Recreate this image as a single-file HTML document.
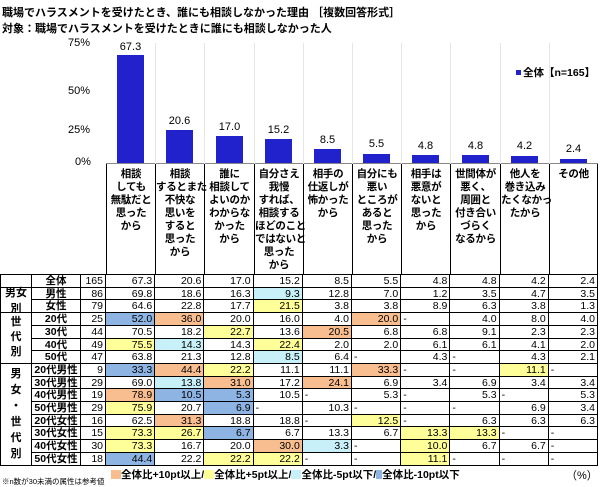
<!DOCTYPE html>
<html><head><meta charset="utf-8">
<style>
*{margin:0;padding:0;box-sizing:border-box}
body{width:600px;height:487px;background:#fff;position:relative;overflow:hidden;font-family:"Liberation Sans","Noto Sans CJK JP",sans-serif;color:#000}
.a{position:absolute}
.t{font-size:11px;font-weight:bold;white-space:nowrap}
.hd{position:absolute;top:164px;height:110px;border-left:1px solid #000;font-size:10.5px;font-weight:bold;text-align:center;line-height:13px;padding-top:4px;white-space:nowrap;letter-spacing:-0.3px}
.r{position:absolute;left:0;width:598px;height:13.7px;border-top:1px solid #000}
.cell{position:absolute;top:0;height:12.7px;font-size:10.5px;line-height:12.7px;white-space:nowrap;padding:0 2px;border-right:1px solid #000}
.n{text-align:right}.l{text-align:center;font-weight:bold}.d{text-align:left}
.gl{position:absolute;left:0;width:32px;text-align:center;font-size:11px;font-weight:bold;display:flex;flex-direction:column;justify-content:center;background:#fff;border-right:1px solid #000;border-left:1px solid #000;border-top:1px solid #000}
.o{background:#F9BE90}.y{background:#FFFF99}.c{background:#C8F0F8}.b{background:#8DB4E2}
.bar{position:absolute;background:#2222CC;width:27px}
.v{position:absolute;font-size:11px;width:49px;text-align:center}
</style></head><body>
<div class="a t" style="left:2px;top:4px">職場でハラスメントを受けたとき、誰にも相談しなかった理由 ［複数回答形式］</div>
<div class="a t" style="left:2px;top:20px">対象：職場でハラスメントを受けたときに誰にも相談しなかった人</div>

<div class="a" style="left:68px;top:37px;font-size:11px">75%</div>
<div class="a" style="left:68px;top:85px;font-size:11px">50%</div>
<div class="a" style="left:68px;top:124px;font-size:11px">25%</div>
<div class="a" style="left:75px;top:156px;font-size:11px">0%</div>
<div class="a" style="left:106px;top:43px;width:492px;height:121px;border-bottom:1px solid #888"></div>
<div class="a" style="left:155px;top:43px;width:1px;height:121px;background:#e6e6e6"></div>
<div class="a" style="left:204px;top:43px;width:1px;height:121px;background:#e6e6e6"></div>
<div class="a" style="left:254px;top:43px;width:1px;height:121px;background:#e6e6e6"></div>
<div class="a" style="left:303px;top:43px;width:1px;height:121px;background:#e6e6e6"></div>
<div class="a" style="left:352px;top:43px;width:1px;height:121px;background:#e6e6e6"></div>
<div class="a" style="left:401px;top:43px;width:1px;height:121px;background:#e6e6e6"></div>
<div class="a" style="left:450px;top:43px;width:1px;height:121px;background:#e6e6e6"></div>
<div class="a" style="left:500px;top:43px;width:1px;height:121px;background:#e6e6e6"></div>
<div class="a" style="left:549px;top:43px;width:1px;height:121px;background:#e6e6e6"></div>

<div class="bar" style="left:117px;top:55px;height:108px"></div><div class="v" style="left:106px;top:41px">67.3</div>
<div class="bar" style="left:166px;top:130px;height:33px"></div><div class="v" style="left:155px;top:115px">20.6</div>
<div class="bar" style="left:216px;top:136px;height:27px"></div><div class="v" style="left:205px;top:121px">17.0</div>
<div class="bar" style="left:265px;top:139px;height:24px"></div><div class="v" style="left:254px;top:124px">15.2</div>
<div class="bar" style="left:314px;top:149px;height:14px"></div><div class="v" style="left:303px;top:134px">8.5</div>
<div class="bar" style="left:363px;top:154px;height:9px"></div><div class="v" style="left:352px;top:138px">5.5</div>
<div class="bar" style="left:412px;top:155px;height:8px"></div><div class="v" style="left:401px;top:140px">4.8</div>
<div class="bar" style="left:462px;top:155px;height:8px"></div><div class="v" style="left:451px;top:140px">4.8</div>
<div class="bar" style="left:511px;top:156px;height:7px"></div><div class="v" style="left:500px;top:140px">4.2</div>
<div class="bar" style="left:560px;top:159px;height:4px"></div><div class="v" style="left:549px;top:143px">2.4</div>

<div class="a" style="left:516px;top:70px;width:5px;height:5px;background:#2222CC"></div>
<div class="a t" style="left:523px;top:65px;font-size:10.5px">全体【n=165】</div>

<div class="hd" style="left:106px;width:49px">相談<br>しても<br>無駄だと<br>思った<br>から</div>
<div class="hd" style="left:155px;width:49px">相談<br>するとまた<br>不快な<br>思いを<br>すると<br>思った<br>から</div>
<div class="hd" style="left:204px;width:50px">誰に<br>相談して<br>よいのか<br>わからな<br>かった<br>から</div>
<div class="hd" style="left:254px;width:49px">自分さえ<br>我慢<br>すれば、<br>相談する<br>ほどのこと<br>ではないと<br>思った<br>から</div>
<div class="hd" style="left:303px;width:49px">相手の<br>仕返しが<br>怖かった<br>から</div>
<div class="hd" style="left:352px;width:49px">自分にも<br>悪い<br>ところが<br>あると<br>思った<br>から</div>
<div class="hd" style="left:401px;width:49px">相手は<br>悪意が<br>ないと<br>思った<br>から</div>
<div class="hd" style="left:450px;width:50px">世間体が<br>悪く、<br>周囲と<br>付き合い<br>づらく<br>なるから</div>
<div class="hd" style="left:500px;width:49px">他人を<br>巻き込み<br>たくなかっ<br>たから</div>
<div class="hd" style="left:549px;width:49px;border-right:1px solid #000">その他</div>

<div id="tbl"></div>
<script>
(function(){
var rows=[
["全体","165","67.3","20.6","17.0","15.2","8.5","5.5","4.8","4.8","4.2","2.4"],
["男性","86","69.8","18.6","16.3","9.3c","12.8","7.0","1.2","3.5","4.7","3.5"],
["女性","79","64.6","22.8","17.7","21.5y","3.8","3.8","8.9","6.3","3.8","1.3"],
["20代","25","52.0b","36.0o","20.0","16.0","4.0","20.0o","-","4.0","8.0","4.0"],
["30代","44","70.5","18.2","22.7y","13.6","20.5o","6.8","6.8","9.1","2.3","2.3"],
["40代","49","75.5y","14.3c","14.3","22.4y","2.0","2.0","6.1","6.1","4.1","2.0"],
["50代","47","63.8","21.3","12.8","8.5c","6.4","-","4.3","-","4.3","2.1"],
["20代男性","9","33.3b","44.4o","22.2y","11.1","11.1","33.3o","-","-","11.1y","-"],
["30代男性","29","69.0","13.8c","31.0o","17.2","24.1o","6.9","3.4","6.9","3.4","3.4"],
["40代男性","19","78.9o","10.5b","5.3b","10.5","-","5.3","-","5.3","-","5.3"],
["50代男性","29","75.9y","20.7","6.9b","-","10.3","-","-","-","6.9","3.4"],
["20代女性","16","62.5","31.3o","18.8","18.8","-","12.5y","-","6.3","6.3","6.3"],
["30代女性","15","73.3y","26.7y","6.7b","6.7","13.3","6.7","13.3y","13.3y","-","-"],
["40代女性","30","73.3y","16.7","20.0","30.0o","3.3c","-","10.0y","6.7","6.7","-"],
["50代女性","18","44.4b","22.2","22.2y","22.2y","-","-","11.1y","-","-","-"]];
var h="",T0=274,rh=12.7;
rows.forEach(function(r,i){
 var yy=T0+i*rh;
 h+='<div class="r" style="top:'+yy+'px">';
 h+='<div class="cell" style="left:0;width:32px;border-left:1px solid #000"></div>';
 h+='<div class="cell l" style="left:32px;width:49px">'+r[0]+'</div>';
 h+='<div class="cell n" style="left:81px;width:25px">'+r[1]+'</div>';
 for(var k=0;k<10;k++){
  var v=r[k+2],cl="",m=v.match(/[oycb]$/);
  if(m){cl=m[0];v=v.slice(0,-1);}
  var x=106+k*49.2;
  h+='<div class="cell '+(v=="-"?"d":"n")+' '+cl+'" style="left:'+x+'px;width:49.2px">'+v+'</div>';
 }
 h+='</div>';
});
h+='<div class="a" style="left:0;top:'+(T0+15*rh)+'px;width:598px;height:1px;background:#000"></div>';
document.getElementById("tbl").innerHTML=h;
})();
</script>

<div class="gl" style="top:286.7px;height:25.4px">男女<br>別</div>
<div class="gl" style="top:312.1px;height:50.8px;line-height:15px">世<br>代<br>別</div>
<div class="gl" style="top:362.9px;height:101.6px;line-height:16px">男<br>女<br>・<br>世<br>代<br>別</div>

<div class="a" style="left:2px;top:476px;font-size:7.5px;white-space:nowrap">※n数が30未満の属性は参考値</div>
<div class="a t" style="left:111px;top:467px;font-size:10.5px">
<span style="display:inline-block;width:10px;height:9px;background:#F9BE90;vertical-align:-1px"></span>全体比+10pt以上/<span style="display:inline-block;width:10px;height:9px;background:#FFFF99;vertical-align:-1px"></span>全体比+5pt以上/<span style="display:inline-block;width:10px;height:9px;background:#C8F0F8;vertical-align:-1px"></span>全体比-5pt以下/<span style="display:inline-block;width:6px;height:9px;background:#8DB4E2;vertical-align:-1px"></span>全体比-10pt以下</div>
<div class="a" style="left:566px;top:467px;font-size:11px">（%）</div>
</body></html>
